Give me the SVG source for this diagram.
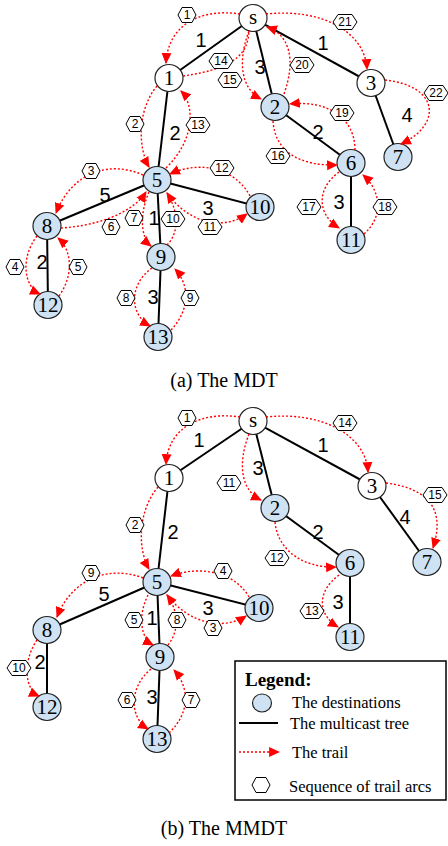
<svg xmlns="http://www.w3.org/2000/svg" width="448" height="846" viewBox="0 0 448 846">
<style>
.edge{stroke:#000;stroke-width:2;fill:none}
.trail{stroke:#f00;stroke-width:1.4;stroke-dasharray:2 2;fill:none;marker-end:url(#ah)}
.trail.na{marker-end:none}
.dst{fill:#cfe2f3;stroke:#222;stroke-width:1.2}
.plain{fill:#fff;stroke:#222;stroke-width:1.2}
.nl{font-family:"Liberation Serif",serif;font-size:21px;text-anchor:middle;fill:#000}
.el{font-family:"Liberation Sans",Arial,sans-serif;font-size:20px;text-anchor:middle;fill:#000}
.hx{fill:#fff;stroke:#000;stroke-width:1}
.ht{font-family:"Liberation Sans",Arial,sans-serif;font-size:12px;text-anchor:middle;fill:#000}
.cap{font-family:"Liberation Serif",serif;font-size:20px;text-anchor:middle;fill:#000}
.lg{font-family:"Liberation Serif",serif;font-size:16.5px;fill:#000}
</style>
<defs>
<marker id="ah" viewBox="0 0 10 10" refX="9" refY="5" markerWidth="11" markerHeight="11" markerUnits="userSpaceOnUse" orient="auto"><path d="M0,0.5 L10,5 L0,9.5 z" fill="#f00"/></marker>
<polygon id="h1" points="-9,0 -5,-7.5 5,-7.5 9,0 5,7.5 -5,7.5"/>
<polygon id="h2" points="-12,0 -7,-7.5 7,-7.5 12,0 7,7.5 -7,7.5"/>
</defs>
<rect width="448" height="846" fill="#fff"/>

<!-- ===== (a) ===== -->
<g id="edges-a">
<line class="edge" x1="253" y1="18" x2="169" y2="78"/>
<line class="edge" x1="253" y1="18" x2="275" y2="107"/>
<line class="edge" x1="253" y1="18" x2="371" y2="83"/>
<line class="edge" x1="371" y1="83" x2="398" y2="157"/>
<line class="edge" x1="275" y1="107" x2="351" y2="163"/>
<line class="edge" x1="351" y1="163" x2="351" y2="240"/>
<line class="edge" x1="169" y1="78" x2="157" y2="180"/>
<line class="edge" x1="157" y1="180" x2="47" y2="226"/>
<line class="edge" x1="157" y1="180" x2="161" y2="257"/>
<line class="edge" x1="157" y1="180" x2="260" y2="207"/>
<line class="edge" x1="47" y1="226" x2="48" y2="305"/>
<line class="edge" x1="161" y1="257" x2="158" y2="337"/>
<text class="el" x="201" y="47">1</text>
<text class="el" x="260" y="74">3</text>
<text class="el" x="323" y="50">1</text>
<text class="el" x="407" y="122">4</text>
<text class="el" x="318" y="139">2</text>
<text class="el" x="339" y="209">3</text>
<text class="el" x="175" y="140">2</text>
<text class="el" x="105" y="202">5</text>
<text class="el" x="154" y="225">1</text>
<text class="el" x="208" y="215">3</text>
<text class="el" x="42" y="269">2</text>
<text class="el" x="153" y="304">3</text>
</g>

<g id="node-a-s"><ellipse class="plain" cx="253" cy="18" rx="14" ry="13.5"/><text class="nl" x="253" y="24">s</text></g>
<g id="node-a-1"><ellipse class="plain" cx="169" cy="78" rx="14" ry="13.5"/><text class="nl" x="169" y="85">1</text></g>
<g id="node-a-2"><ellipse class="dst" cx="275" cy="107" rx="14" ry="13.5"/><text class="nl" x="275" y="114">2</text></g>
<g id="node-a-3"><ellipse class="plain" cx="371" cy="83" rx="14" ry="13.5"/><text class="nl" x="371" y="90">3</text></g>
<g id="node-a-7"><ellipse class="dst" cx="398" cy="157" rx="14" ry="13.5"/><text class="nl" x="398" y="164">7</text></g>
<g id="node-a-6"><ellipse class="dst" cx="351" cy="163" rx="14" ry="13.5"/><text class="nl" x="351" y="170">6</text></g>
<g id="node-a-11"><ellipse class="dst" cx="351" cy="240" rx="14" ry="13.5"/><text class="nl" x="351" y="247">11</text></g>
<g id="node-a-5"><ellipse class="dst" cx="157" cy="180" rx="14" ry="13.5"/><text class="nl" x="157" y="187">5</text></g>
<g id="node-a-10"><ellipse class="dst" cx="260" cy="207" rx="14" ry="13.5"/><text class="nl" x="260" y="214">10</text></g>
<g id="node-a-8"><ellipse class="dst" cx="47" cy="226" rx="14" ry="13.5"/><text class="nl" x="47" y="233">8</text></g>
<g id="node-a-9"><ellipse class="dst" cx="161" cy="257" rx="14" ry="13.5"/><text class="nl" x="161" y="264">9</text></g>
<g id="node-a-12"><ellipse class="dst" cx="48" cy="305" rx="14" ry="13.5"/><text class="nl" x="48" y="312">12</text></g>
<g id="node-a-13"><ellipse class="dst" cx="158" cy="337" rx="14" ry="13.5"/><text class="nl" x="158" y="344">13</text></g>

<g id="trails-a">
<path class="trail" d="M240,14 C200,8 168,25 166,63"/>
<path class="trail" d="M157,86 C137,110 138,148 149,167"/>
<path class="trail" d="M143,175 C110,160 72,172 56,213"/>
<path class="trail" d="M37,236 C20,258 24,287 40,294"/>
<path class="trail" d="M59,296 C74,275 72,250 58,238"/>
<path class="trail" d="M61,228 C95,226 132,214 146,192"/>
<path class="trail" d="M149,192 C139,215 141,238 151,246"/>
<path class="trail" d="M152,268 C128,285 130,315 150,326"/>
<path class="trail" d="M171,330 C190,310 190,285 175,269"/>
<path class="trail" d="M167,245 C180,232 178,210 167,193"/>
<path class="trail" d="M167,193 C190,225 225,230 247,214"/>
<path class="trail" d="M250,196 C235,168 200,160 170,174"/>
<path class="trail" d="M166,168 C195,140 195,105 181,91"/>
<path class="trail na" d="M183,76 C240,68 248,50 249,31"/>
<path class="trail" d="M249,31 C238,60 240,88 261,99"/>
<path class="trail" d="M273,121 C275,152 300,166 337,165"/>
<path class="trail" d="M339,172 C315,190 318,215 339,228"/>
<path class="trail" d="M364,234 C385,215 380,190 363,175"/>
<path class="trail" d="M355,150 C355,118 328,100 290,104"/>
<path class="trail" d="M284,94 C296,60 290,35 267,27"/>
<path class="trail" d="M266,14 C322,8 365,32 367,69"/>
<path class="trail" d="M385,80 C440,86 442,125 401,144"/>
</g>

<g id="seq-a">
<use href="#h1" class="hx" x="187" y="15"/><text class="ht" x="187" y="19">1</text>
<use href="#h1" class="hx" x="135" y="124"/><text class="ht" x="135" y="128">2</text>
<use href="#h1" class="hx" x="91" y="171"/><text class="ht" x="91" y="175">3</text>
<use href="#h1" class="hx" x="15" y="267"/><text class="ht" x="15" y="271">4</text>
<use href="#h1" class="hx" x="78" y="267"/><text class="ht" x="78" y="271">5</text>
<use href="#h1" class="hx" x="111" y="227"/><text class="ht" x="111" y="231">6</text>
<use href="#h1" class="hx" x="134" y="218"/><text class="ht" x="134" y="222">7</text>
<use href="#h1" class="hx" x="126" y="298"/><text class="ht" x="126" y="302">8</text>
<use href="#h1" class="hx" x="190" y="298"/><text class="ht" x="190" y="302">9</text>
<use href="#h2" class="hx" x="173" y="219"/><text class="ht" x="173" y="223">10</text>
<use href="#h2" class="hx" x="210" y="227"/><text class="ht" x="210" y="231">11</text>
<use href="#h2" class="hx" x="222" y="168"/><text class="ht" x="222" y="172">12</text>
<use href="#h2" class="hx" x="198" y="125"/><text class="ht" x="198" y="129">13</text>
<use href="#h2" class="hx" x="221" y="61"/><text class="ht" x="221" y="65">14</text>
<use href="#h2" class="hx" x="230" y="80"/><text class="ht" x="230" y="84">15</text>
<use href="#h2" class="hx" x="278" y="156"/><text class="ht" x="278" y="160">16</text>
<use href="#h2" class="hx" x="309" y="207"/><text class="ht" x="309" y="211">17</text>
<use href="#h2" class="hx" x="385" y="207"/><text class="ht" x="385" y="211">18</text>
<use href="#h2" class="hx" x="342" y="113"/><text class="ht" x="342" y="117">19</text>
<use href="#h2" class="hx" x="302" y="65"/><text class="ht" x="302" y="69">20</text>
<use href="#h2" class="hx" x="345" y="22"/><text class="ht" x="345" y="26">21</text>
<use href="#h2" class="hx" x="436" y="93"/><text class="ht" x="436" y="97">22</text>
</g>

<text class="cap" x="224" y="387">(a) The MDT</text>

<!-- ===== (b) ===== -->
<g id="edges-b">
<line class="edge" x1="253" y1="421" x2="169" y2="478"/>
<line class="edge" x1="253" y1="421" x2="275" y2="508"/>
<line class="edge" x1="253" y1="421" x2="372" y2="486"/>
<line class="edge" x1="372" y1="486" x2="427" y2="562"/>
<line class="edge" x1="275" y1="508" x2="350" y2="563"/>
<line class="edge" x1="350" y1="563" x2="350" y2="637"/>
<line class="edge" x1="169" y1="478" x2="157" y2="582"/>
<line class="edge" x1="157" y1="582" x2="47" y2="630"/>
<line class="edge" x1="157" y1="582" x2="160" y2="657"/>
<line class="edge" x1="157" y1="582" x2="259" y2="608"/>
<line class="edge" x1="47" y1="630" x2="47" y2="707"/>
<line class="edge" x1="160" y1="657" x2="157" y2="739"/>
<text class="el" x="199" y="447">1</text>
<text class="el" x="258" y="475">3</text>
<text class="el" x="323" y="452">1</text>
<text class="el" x="405" y="524">4</text>
<text class="el" x="318" y="539">2</text>
<text class="el" x="338" y="609">3</text>
<text class="el" x="173" y="539">2</text>
<text class="el" x="104" y="601">5</text>
<text class="el" x="152" y="625">1</text>
<text class="el" x="208" y="615">3</text>
<text class="el" x="40" y="669">2</text>
<text class="el" x="152" y="704">3</text>
</g>

<g id="node-b-s"><ellipse class="plain" cx="253" cy="421" rx="14" ry="13.5"/><text class="nl" x="253" y="427">s</text></g>
<g id="node-b-1"><ellipse class="plain" cx="169" cy="478" rx="14" ry="13.5"/><text class="nl" x="169" y="485">1</text></g>
<g id="node-b-2"><ellipse class="dst" cx="275" cy="508" rx="14" ry="13.5"/><text class="nl" x="275" y="515">2</text></g>
<g id="node-b-3"><ellipse class="plain" cx="372" cy="486" rx="14" ry="13.5"/><text class="nl" x="372" y="493">3</text></g>
<g id="node-b-7"><ellipse class="dst" cx="427" cy="562" rx="14" ry="13.5"/><text class="nl" x="427" y="569">7</text></g>
<g id="node-b-6"><ellipse class="dst" cx="350" cy="563" rx="14" ry="13.5"/><text class="nl" x="350" y="570">6</text></g>
<g id="node-b-11"><ellipse class="dst" cx="350" cy="637" rx="14" ry="13.5"/><text class="nl" x="350" y="644">11</text></g>
<g id="node-b-5"><ellipse class="dst" cx="157" cy="582" rx="14" ry="13.5"/><text class="nl" x="157" y="589">5</text></g>
<g id="node-b-10"><ellipse class="dst" cx="259" cy="608" rx="14" ry="13.5"/><text class="nl" x="259" y="615">10</text></g>
<g id="node-b-8"><ellipse class="dst" cx="47" cy="630" rx="14" ry="13.5"/><text class="nl" x="47" y="637">8</text></g>
<g id="node-b-9"><ellipse class="dst" cx="160" cy="657" rx="14" ry="13.5"/><text class="nl" x="160" y="664">9</text></g>
<g id="node-b-12"><ellipse class="dst" cx="47" cy="707" rx="14" ry="13.5"/><text class="nl" x="47" y="714">12</text></g>
<g id="node-b-13"><ellipse class="dst" cx="157" cy="739" rx="14" ry="13.5"/><text class="nl" x="157" y="746">13</text></g>

<g id="trails-b">
<path class="trail" d="M240,417 C200,411 168,428 166,464"/>
<path class="trail" d="M158,487 C137,512 138,550 149,569"/>
<path class="trail" d="M167,595 C190,625 225,630 246,616"/>
<path class="trail" d="M249,597 C235,572 200,565 171,576"/>
<path class="trail" d="M148,595 C138,615 140,638 153,645"/>
<path class="trail" d="M151,669 C128,688 130,718 148,729"/>
<path class="trail" d="M169,733 C190,713 190,688 174,670"/>
<path class="trail" d="M168,645 C180,630 178,610 167,595"/>
<path class="trail" d="M143,578 C110,565 72,578 57,617"/>
<path class="trail" d="M37,640 C22,662 25,690 39,696"/>
<path class="trail" d="M249,434 C238,462 240,490 261,500"/>
<path class="trail" d="M275,522 C278,552 305,568 336,567"/>
<path class="trail" d="M339,575 C316,592 318,615 338,627"/>
<path class="trail" d="M266,417 C322,411 366,435 368,472"/>
<path class="trail" d="M386,483 C440,490 442,520 433,548"/>
</g>

<g id="seq-b">
<use href="#h1" class="hx" x="187" y="418"/><text class="ht" x="187" y="422">1</text>
<use href="#h1" class="hx" x="135" y="525"/><text class="ht" x="135" y="529">2</text>
<use href="#h1" class="hx" x="213" y="628"/><text class="ht" x="213" y="632">3</text>
<use href="#h1" class="hx" x="223" y="571"/><text class="ht" x="223" y="575">4</text>
<use href="#h1" class="hx" x="134" y="620"/><text class="ht" x="134" y="624">5</text>
<use href="#h1" class="hx" x="127" y="700"/><text class="ht" x="127" y="704">6</text>
<use href="#h1" class="hx" x="191" y="700"/><text class="ht" x="191" y="704">7</text>
<use href="#h1" class="hx" x="177" y="620"/><text class="ht" x="177" y="624">8</text>
<use href="#h1" class="hx" x="91" y="573"/><text class="ht" x="91" y="577">9</text>
<use href="#h2" class="hx" x="19" y="668"/><text class="ht" x="19" y="672">10</text>
<use href="#h2" class="hx" x="229" y="483"/><text class="ht" x="229" y="487">11</text>
<use href="#h2" class="hx" x="277" y="558"/><text class="ht" x="277" y="562">12</text>
<use href="#h2" class="hx" x="312" y="611"/><text class="ht" x="312" y="615">13</text>
<use href="#h2" class="hx" x="345" y="423"/><text class="ht" x="345" y="427">14</text>
<use href="#h2" class="hx" x="435" y="495"/><text class="ht" x="435" y="499">15</text>
</g>

<g id="legend">
<rect x="235" y="661" width="211" height="139" fill="#fff" stroke="#000" stroke-width="1.5"/>
<text x="245" y="686" font-family="Liberation Serif,serif" font-size="19" font-weight="bold">Legend:</text>
<ellipse class="dst" cx="262" cy="703" rx="9.5" ry="9"/>
<text class="lg" x="292" y="708">The destinations</text>
<line class="edge" x1="239" y1="723" x2="278" y2="723"/>
<text class="lg" x="290" y="729">The multicast tree</text>
<line class="trail" x1="239" y1="752" x2="279" y2="752"/>
<text class="lg" x="292" y="758">The trail</text>
<use href="#h1" class="hx" x="261" y="785"/>
<text class="lg" x="289" y="792">Sequence of trail arcs</text>
</g>

<text class="cap" x="224" y="835">(b) The MMDT</text>
</svg>
